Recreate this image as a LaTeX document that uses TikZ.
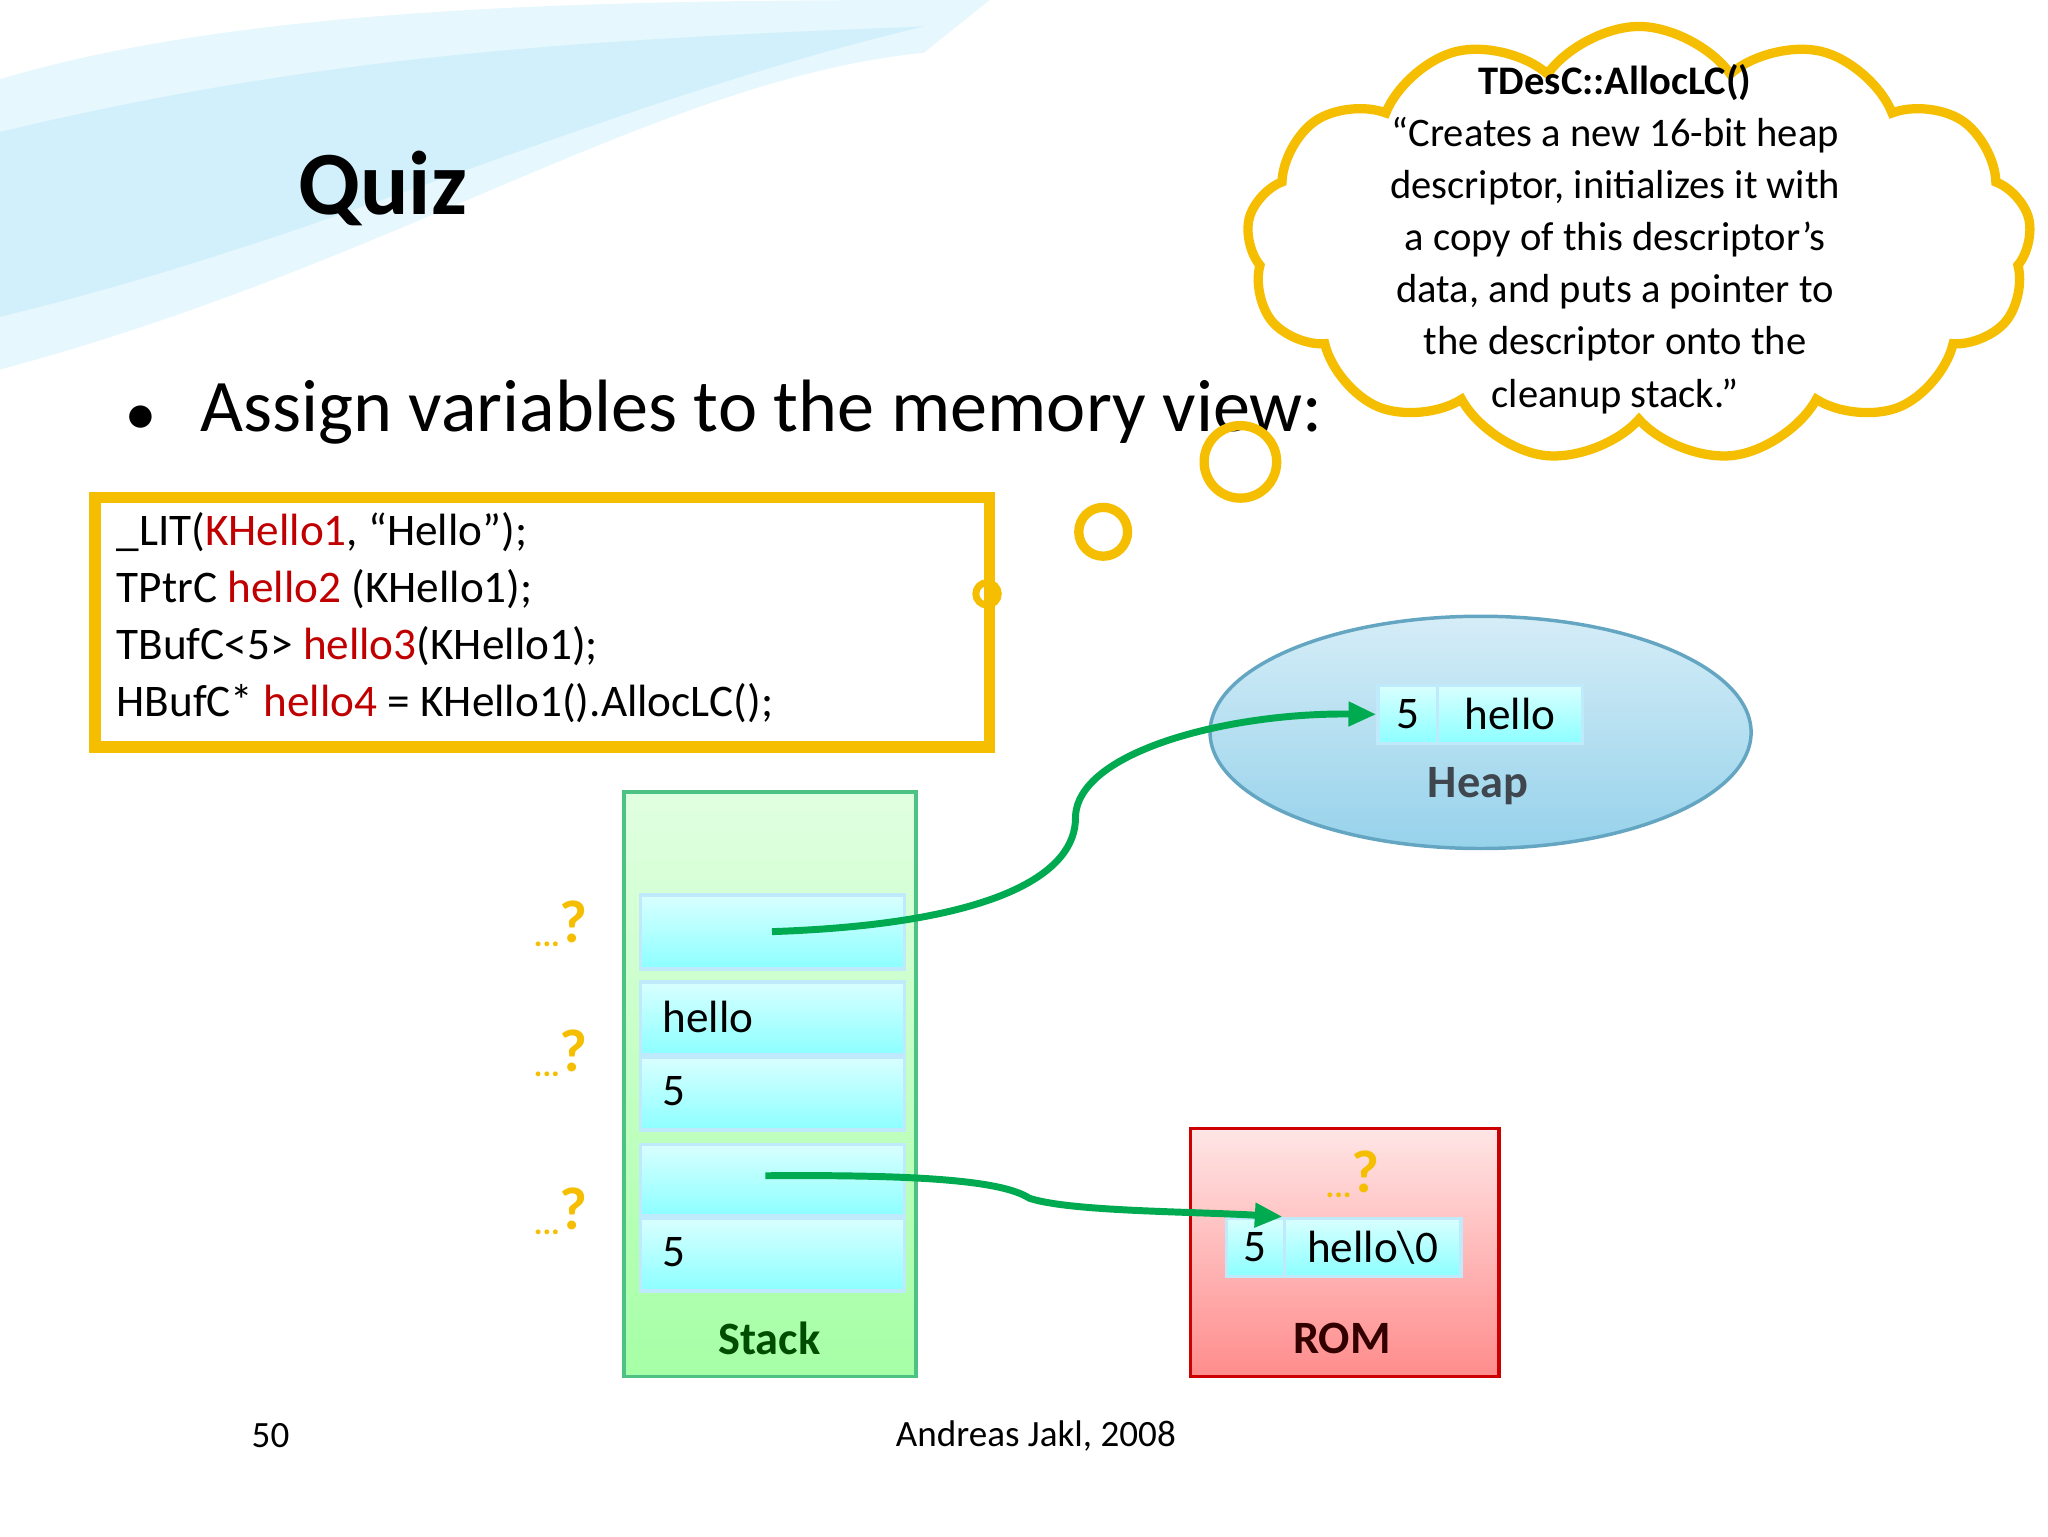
\documentclass[tikz,border=0pt]{standalone}
\usepackage{fontspec}
\setmainfont{Carlito}
\usetikzlibrary{shapes.symbols,arrows.meta}
\definecolor{ylw}{RGB}{245,190,0}
\definecolor{grn}{RGB}{0,170,80}
\definecolor{dred}{RGB}{192,0,0}
\definecolor{heapb}{RGB}{150,210,235}
\tikzset{
 cell/.style={draw=cyan!25,line width=1.5pt,top color=cyan!15,bottom color=cyan!45!white,inner sep=0pt,anchor=north west},
 lab/.style={font=\fontsize{19.5}{22}\selectfont},
 q/.style={text=ylw,font=\bfseries\fontsize{14}{16}\selectfont,inner sep=0pt},
 arr/.style={draw=grn,line width=3pt,-{Triangle[length=12pt,width=10pt]}},
}
\newcommand{\qm}{\raisebox{-0.3ex}{...}{\fontsize{26}{26}\selectfont ?}}
\begin{document}
\begin{tikzpicture}[x=0.02cm,y=-0.02cm]
\useasboundingbox (0,0) rectangle (1552,1164);
% background swoosh
\fill[cyan!10] (0,60) .. controls (200,0) and (500,0) .. (750,0) -- (700,40) .. controls (500,60) and (300,200) .. (0,280) -- cycle;
\fill[cyan!18] (0,100) .. controls (250,40) and (450,30) .. (700,20) .. controls (450,80) and (250,180) .. (0,240) -- cycle;
\node[font=\bfseries\fontsize{39}{44}\selectfont] (quiz) at (290,143) {Quiz};
\node[font=\fontsize{32}{38}\selectfont,anchor=west] (bul) at (90,312) {$\bullet$\hspace{0.6em}Assign variables to the memory view:};
% cloud
\node[cloud,cloud puffs=13,cloud puff arc=110,aspect=1.6,draw=ylw,line width=4pt,fill=white,inner sep=0pt,minimum height=6.6cm,minimum width=11.9cm] (cl) at (1242,185) {};
\node[align=center,font=\fontsize{17.5}{22.5}\selectfont] (clt) at (1224,181) {\textbf{TDesC::AllocLC()}\\“Creates a new 16-bit heap\\descriptor, initializes it with\\a copy of this descriptor's\\data, and puts a pointer to\\the descriptor onto the\\cleanup stack.”};
\node[circle,draw=ylw,line width=4pt,inner sep=0pt,minimum size=1.1cm] (b1) at (940,350) {};
\node[circle,draw=ylw,line width=4pt,inner sep=0pt,minimum size=0.74cm] (b2) at (836,403) {};
\node[circle,draw=ylw,line width=3pt,inner sep=0pt,minimum size=0.34cm,fill=white] (b3) at (748,450) {};
% code
\draw[ylw,line width=5pt] (72,377) rectangle (750,566);
\node[anchor=north west,align=left,font=\fontsize{19.5}{24.6}\selectfont,inner sep=0pt] (code) at (88,388) {\_LIT(\textcolor{dred}{KHello1}, “Hello”);\\TPtrC \textcolor{dred}{hello2} (KHello1);\\TBufC<5> \textcolor{dred}{hello3}(KHello1);\\HBufC* \textcolor{dred}{hello4} = KHello1().AllocLC();};
% stack
\draw[draw=grn!70,line width=1.5pt,top color=green!12,bottom color=green!35!white] (473,600) rectangle (694,1043);
\node[cell,minimum width=4cm,minimum height=1.12cm] (s1) at (484,677) {};
\node[cell,minimum width=4cm,minimum height=1.1cm] (s2) at (484,743) {};
\node[cell,minimum width=4cm,minimum height=1.1cm] (s3) at (484,800) {};
\node[cell,minimum width=4cm,minimum height=1.08cm] (s4) at (484,866) {};
\node[cell,minimum width=4cm,minimum height=1.1cm] (s5) at (484,922) {};
\node[lab,anchor=west] (t2) at (496,771) {hello};
\node[lab,anchor=west] (t3) at (496,827) {5};
\node[lab,anchor=west] (t5) at (496,949) {5};
\node[font=\bfseries\fontsize{20}{24}\selectfont,text=green!30!black] (stk) at (583,1014) {Stack};
\node[q] (q1) at (425,700) {\qm};
\node[q] (q2) at (425,798) {\qm};
\node[q] (q3) at (425,918) {\qm};
% heap
\draw[draw=cyan!50!gray,line width=1.5pt,top color=heapb!40,bottom color=heapb] (1122,555) ellipse (205 and 88);
\node[cell,minimum width=0.9cm,minimum height=0.88cm] (h1) at (1043,518) {};
\node[cell,minimum width=2.2cm,minimum height=0.88cm] (h2) at (1088,518) {};
\node[lab] at (h1) {5};
\node[lab] at (h2) {hello};
\node[font=\bfseries\fontsize{20}{24}\selectfont,text=cyan!20!black] (heap) at (1120,596) {Heap};
% rom
\draw[draw=red!80!black,line width=1.5pt,top color=red!10,bottom color=red!45!white] (902,855) rectangle (1136,1043);
\node[cell,minimum width=0.88cm,minimum height=0.88cm] (r1) at (928,922) {};
\node[cell,minimum width=2.68cm,minimum height=0.88cm] (r2) at (972,922) {};
\node[lab] at (r1) {5};
\node[lab] at (r2) {hello\textbackslash 0};
\node[q] (q4) at (1025,890) {\qm};
\node[font=\bfseries\fontsize{20}{24}\selectfont,text=red!20!black] (rom) at (1017,1014) {ROM};
% arrows
\coordinate (a1) at (585,706);
\coordinate (a2) at (580,891);
\draw[arr] (a1) .. controls (760,700) and (815,660) .. (815,620) .. controls (815,570) and (930,540) .. (h1.west);
\draw[arr] (a2) .. controls (700,890) and (760,895) .. (780,908) .. controls (810,918) and (900,918) .. (r2.north west);
% footer
\node[font=\fontsize{16}{19}\selectfont] (pg) at (205,1088) {50};
\node[font=\fontsize{16}{19}\selectfont] (au) at (785,1088) {Andreas Jakl, 2008};
\end{tikzpicture}
\end{document}
